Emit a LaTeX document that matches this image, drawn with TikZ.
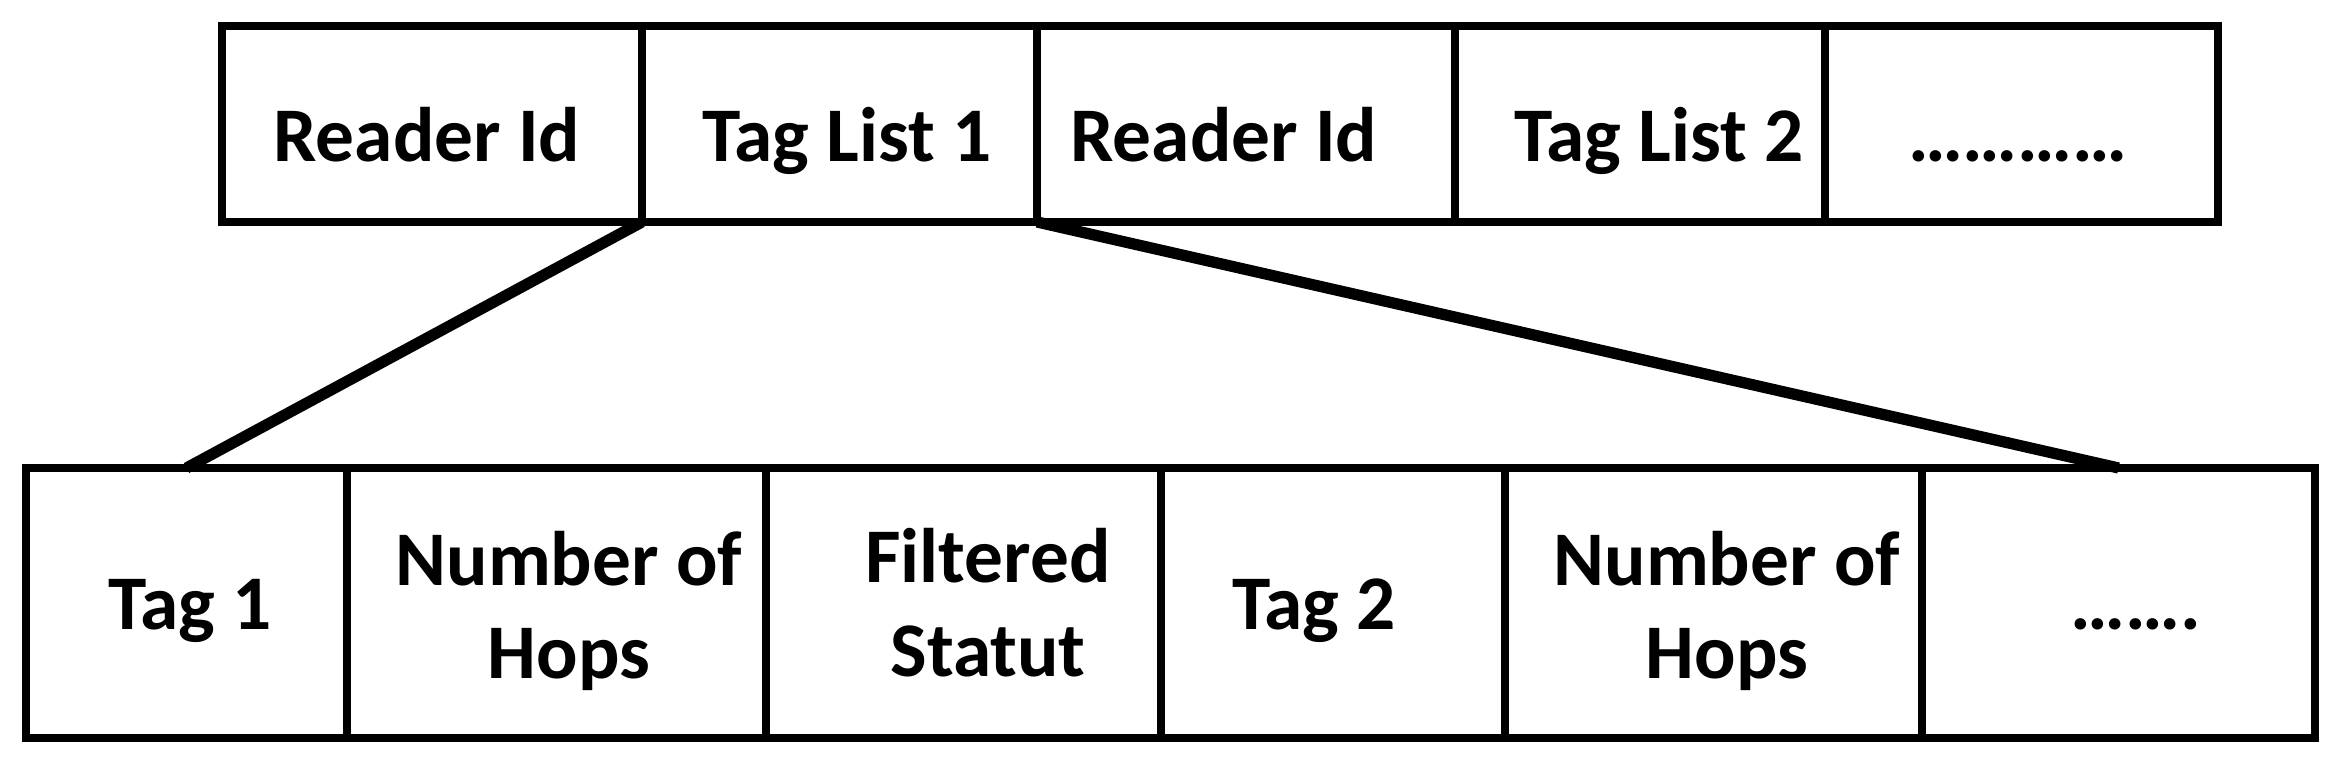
\documentclass[tikz,border=0pt]{standalone}
\usepackage{fontspec}
\setmainfont{Carlito}
\usepackage{tikz}

\begin{document}
\begin{tikzpicture}

        \useasboundingbox (0,0) rectangle (23.42,7.6);

        % top row
        \begin{scope}[every node/.style={rectangle, draw, line width=2.3pt, inner sep=0pt, outer sep=0pt,
            minimum height=1.96cm}]
          \node[minimum width=4.20cm] (rd1)   at (4.32,6.36)   {};
          \node[minimum width=3.95cm] (tl1)   at (8.395,6.36)  {};
          \node[minimum width=4.18cm] (rd2)   at (12.46,6.36)  {};
          \node[minimum width=3.70cm] (tl2)   at (16.40,6.36)  {};
          \node[minimum width=3.93cm] (more1) at (20.215,6.36) {};
        \end{scope}

        % bottom row
        \begin{scope}[every node/.style={rectangle, draw, line width=2.3pt, inner sep=0pt, outer sep=0pt,
            minimum height=2.70cm}]
          \node[minimum width=3.21cm] (t1)    at (1.865,1.57)  {};
          \node[minimum width=4.19cm] (hops1) at (5.565,1.57)  {};
          \node[minimum width=3.95cm] (filt)  at (9.635,1.57)  {};
          \node[minimum width=3.44cm] (t2)    at (13.33,1.57)  {};
          \node[minimum width=4.17cm] (hops2) at (17.135,1.57) {};
          \node[minimum width=3.93cm] (more2) at (21.185,1.57) {};
        \end{scope}

        \begin{scope}[every node/.style={inner sep=0pt, align=center,
            font=\fontsize{22}{26.7}\selectfont\bfseries}]
          \node[anchor=base] (rd1-l)   at (4.27,5.98)  {Reader Id};
          \node[anchor=base] (tl1-l)   at (8.47,5.98)  {Tag List 1};
          \node[anchor=base] (rd2-l)   at (12.24,5.98) {Reader Id};
          \node[anchor=base] (tl2-l)   at (16.59,5.98) {Tag List 2};
          \node[anchor=base] (more1-l) at (20.18,5.98) {…………};

          \node[anchor=base] (t1-l)    at (1.90,1.30)  {Tag 1};
          \node              (hops1-l) at (5.69,1.49)  {Number of\\Hops};
          \node              (filt-l)  at (9.88,1.57)  {Filtered\\Statut};
          \node[anchor=base] (t2-l)    at (13.14,1.30) {Tag 2};
          \node              (hops2-l) at (17.27,1.49) {Number of\\Hops};
          \node[anchor=base] (more2-l) at (21.36,1.30) {…….};
        \end{scope}

        \begin{scope}[every path/.style={draw, line width=3.2pt}]
          \path (tl1.south west) -- (t1.north);
          \path (tl1.south east) -- (more2.north);
        \end{scope}

      \end{tikzpicture}
\end{document}
